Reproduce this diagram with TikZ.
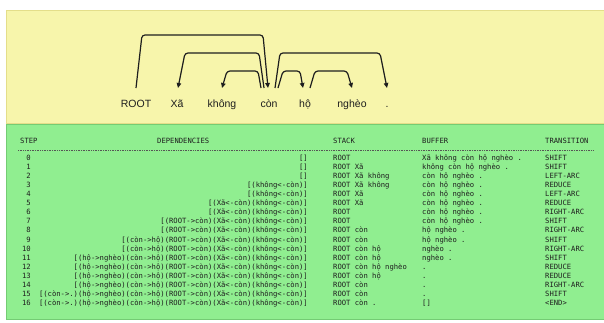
\documentclass[tikz,border=0pt]{standalone}
\usepackage{fontspec}
\setmainfont{Liberation Sans}
\newfontfamily\tblfont{DejaVu Sans Mono}
\usetikzlibrary{arrows.meta,calc}
\definecolor{cYellow}{HTML}{F7F5AB}
\definecolor{cYellowD}{HTML}{E4DE8A}
\definecolor{cGreen}{HTML}{90EE90}
\definecolor{cGreenD}{HTML}{74CC74}
\definecolor{cInk}{HTML}{1E1E1E}
\definecolor{cGray}{HTML}{555555}
\tikzset{
  word/.style={font=\fontsize{10.5}{12}\selectfont,text=cInk,inner sep=0pt,text height=8pt,text depth=2.5pt,anchor=base},
  arc/.style={-{Triangle[length=5pt,width=4.5pt]},line width=1.2pt,rounded corners=3pt,color=cInk},
  cell/.style={font=\tblfont\fontsize{7.2}{8}\selectfont,text=cInk,inner sep=0pt},
  hrule/.style={line width=0.6pt,color=cGray,dash pattern=on 0.8pt off 0.9pt},
}

\begin{document}
\begin{tikzpicture}[x=1pt,y=-1pt]
    \useasboundingbox (0,0) rectangle (604,322);
    % panels (they run on past the right edge)
    \draw[fill=cYellow,draw=cYellowD,line width=0.8pt] (604,10) -- (6,10) -- (6,123) -- (604,123);
    \draw[fill=cGreen,draw=cGreenD,line width=0.8pt] (604,124.5) -- (6,124.5) -- (6,319) -- (604,319);
    % sentence
    \node[word] (root) at (136,107.5) {ROOT};
    \node[word] (xa) at (177,107.5) {Xã};
    \node[word] (khong) at (222,107.5) {không};
    \node[word] (con) at (269,107.5) {còn};
    \node[word] (ho) at (305,107.5) {hộ};
    \node[word] (ngheo) at (352,107.5) {nghèo};
    \node[word] (dot) at (387,107.5) {.};
    % arc levels
    \coordinate (foot) at (0,88);
    \coordinate (lvlA) at (0,35);
    \coordinate (lvlB) at (0,53);
    \coordinate (lvlC) at (0,71);
    \draw[arc] (root |- foot) -- ($(root |- lvlA)+(6,0)$) -- ($(con |- lvlA)+(-6,0)$) -- ($(con |- foot)+(-1,0)$);
    \draw[arc] ($(con |- foot)+(-5,0)$) -- ($(con |- lvlB)+(-10,0)$) -- ($(xa |- lvlB)+(8,0)$) -- ($(xa |- foot)+(1,0)$);
    \draw[arc] ($(con |- foot)+(-8,0)$) -- ($(con |- lvlC)+(-11,0)$) -- ($(khong |- lvlC)+(5,0)$) -- (khong |- foot);
    \draw[arc] ($(con |- foot)+(9,0)$) -- ($(con |- lvlC)+(14,0)$) -- ($(ho |- lvlC)+(-5,0)$) -- ($(ho |- foot)+(-2,0)$);
    \draw[arc] ($(con |- foot)+(6,0)$) -- ($(con |- lvlB)+(11,0)$) -- ($(dot |- lvlB)+(-7,0)$) -- (dot |- foot);
    \draw[arc] ($(ho |- foot)+(5,0)$) -- ($(ho |- lvlC)+(10,0)$) -- ($(ngheo |- lvlC)+(-5,0)$) -- (ngheo |- foot);
    % table head
    \node[cell,anchor=base west] (hStep) at (20,143.5) {STEP};
    \node[cell,anchor=base west] (hDep) at (157,143.5) {DEPENDENCIES};
    \node[cell,anchor=base west] (hStack) at (333,143.5) {STACK};
    \node[cell,anchor=base west] (hBuf) at (422,143.5) {BUFFER};
    \node[cell,anchor=base west] (hTrans) at (545,143.5) {TRANSITION};
    \draw[hrule] (18,150) -- (593,150);
    % table rows
    \foreach \i/\dep/\stk/\buf/\tr in {
      0/{[]}/{ROOT}/{Xã không còn hộ nghèo .}/{SHIFT},
      1/{[]}/{ROOT Xã}/{không còn hộ nghèo .}/{SHIFT},
      2/{[]}/{ROOT Xã không}/{còn hộ nghèo .}/{LEFT-ARC},
      3/{[(không<-còn)]}/{ROOT Xã không}/{còn hộ nghèo .}/{REDUCE},
      4/{[(không<-còn)]}/{ROOT Xã}/{còn hộ nghèo .}/{LEFT-ARC},
      5/{[(Xã<-còn)(không<-còn)]}/{ROOT Xã}/{còn hộ nghèo .}/{REDUCE},
      6/{[(Xã<-còn)(không<-còn)]}/{ROOT}/{còn hộ nghèo .}/{RIGHT-ARC},
      7/{[(ROOT->còn)(Xã<-còn)(không<-còn)]}/{ROOT}/{còn hộ nghèo .}/{SHIFT},
      8/{[(ROOT->còn)(Xã<-còn)(không<-còn)]}/{ROOT còn}/{hộ nghèo .}/{RIGHT-ARC},
      9/{[(còn->hộ)(ROOT->còn)(Xã<-còn)(không<-còn)]}/{ROOT còn}/{hộ nghèo .}/{SHIFT},
      10/{[(còn->hộ)(ROOT->còn)(Xã<-còn)(không<-còn)]}/{ROOT còn hộ}/{nghèo .}/{RIGHT-ARC},
      11/{[(hộ->nghèo)(còn->hộ)(ROOT->còn)(Xã<-còn)(không<-còn)]}/{ROOT còn hộ}/{nghèo .}/{SHIFT},
      12/{[(hộ->nghèo)(còn->hộ)(ROOT->còn)(Xã<-còn)(không<-còn)]}/{ROOT còn hộ nghèo}/{.}/{REDUCE},
      13/{[(hộ->nghèo)(còn->hộ)(ROOT->còn)(Xã<-còn)(không<-còn)]}/{ROOT còn hộ}/{.}/{REDUCE},
      14/{[(hộ->nghèo)(còn->hộ)(ROOT->còn)(Xã<-còn)(không<-còn)]}/{ROOT còn}/{.}/{RIGHT-ARC},
      15/{[(còn->.)(hộ->nghèo)(còn->hộ)(ROOT->còn)(Xã<-còn)(không<-còn)]}/{ROOT còn}/{.}/{SHIFT},
      16/{[(còn->.)(hộ->nghèo)(còn->hộ)(ROOT->còn)(Xã<-còn)(không<-còn)]}/{ROOT còn .}/{[]}/{<END>}}{
      \node[cell,anchor=base east] (step\i) at (31,{160.5+9.06*\i}) {\i};
      \node[cell,anchor=base east] (dep\i) at (308,{160.5+9.06*\i}) {\dep};
      \node[cell,anchor=base west] (stack\i) at (333,{160.5+9.06*\i}) {\stk};
      \node[cell,anchor=base west] (buf\i) at (422,{160.5+9.06*\i}) {\buf};
      \node[cell,anchor=base west] (trans\i) at (545,{160.5+9.06*\i}) {\tr};
    }
\end{tikzpicture}
\end{document}
